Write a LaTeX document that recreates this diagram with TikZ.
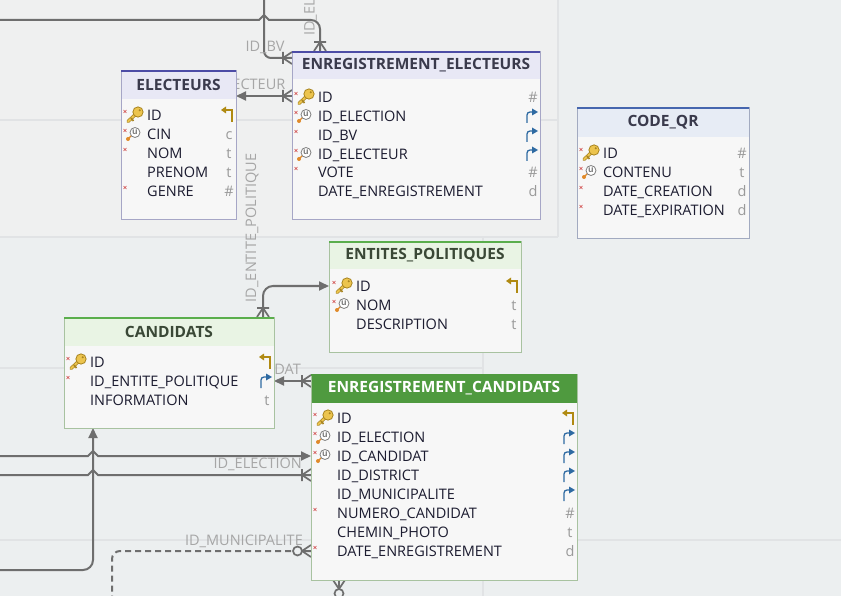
\documentclass[tikz,border=0pt]{standalone}
\usepackage{fontspec}
\setmainfont{Open Sans}
\usetikzlibrary{arrows.meta,fit}
\definecolor{bgcol}{HTML}{ECEFF0}
\definecolor{bgtl}{HTML}{EFF0F0}
\definecolor{gridcol}{HTML}{E1E3E5}
\definecolor{bodyfill}{HTML}{F7F7F7}
\definecolor{hfblue}{HTML}{E8E8F5}
\definecolor{bdblue}{HTML}{A6A6C6}
\definecolor{tcblue}{HTML}{4C4CA6}
\definecolor{hfqr}{HTML}{E7ECF5}
\definecolor{bdqr}{HTML}{A2AAC0}
\definecolor{tcqr}{HTML}{4666AE}
\definecolor{hfgreen}{HTML}{E9F4E4}
\definecolor{bdgreen}{HTML}{A8C2A0}
\definecolor{tcgreen}{HTML}{5AAE4C}
\definecolor{hfdark}{HTML}{4F9A3F}
\definecolor{bddark}{HTML}{A8C2A0}
\definecolor{tcdark}{HTML}{4F9A3F}
\definecolor{ttlblue}{HTML}{3A3A4C}
\definecolor{ttlgreen}{HTML}{3A4836}
\definecolor{rowcol}{HTML}{1C1C30}
\definecolor{typcol}{HTML}{9A9A9A}
\definecolor{lblcol}{HTML}{A6A6A6}
\definecolor{conncol}{HTML}{6E6E6E}
\definecolor{redx}{HTML}{D04848}
\definecolor{keygold}{HTML}{ECC44E}
\definecolor{keydark}{HTML}{A88420}
\definecolor{goldc}{HTML}{B08A12}
\definecolor{bluec}{HTML}{2E6AA2}
\definecolor{ugrey}{HTML}{7E7E7E}
\definecolor{okey}{HTML}{E08A2A}
\pgfdeclarelayer{bglayer}
\pgfdeclarelayer{connlayer}
\pgfsetlayers{bglayer,connlayer,main}
\tikzset{
  conn/.style={draw=conncol, line width=2pt},
  tip/.style={-{Triangle[length=10pt,width=9pt]}},
  ttl/.style={font=\bfseries\fontsize{15.5}{17}\selectfont, inner sep=0pt},
  rowt/.style={font=\fontsize{14.5}{16}\selectfont, text=rowcol, anchor=base west, inner sep=0pt},
  typt/.style={font=\fontsize{14.5}{16}\selectfont, text=typcol, anchor=base, inner sep=0pt},
  lbl/.style={font=\fontsize{14.5}{16}\selectfont, text=lblcol, inner sep=0pt},
  pics/crowbar/.style={code={\draw[conn, line width=1.7pt] (0,-6) -- (9,0) -- (0,6) (0,0) -- (9,0) (9,-6) -- (9,6);}},
  pics/crowcirc/.style={code={\draw[conn, line width=1.7pt] (0,-6) -- (9,0) -- (0,6) (0,0) -- (9,0);
     \draw[conn, line width=1.7pt, fill=bgcol] (13.5,0) circle (4.5);}},
}
% table frame: name, x1, y1, x2, y2, header bottom, palette, title, title colour
\newcommand\mytable[9]{%
  \node[fit={(#2,#3) (#4,#5)}, inner sep=0pt, outer sep=0pt, fill=bodyfill] (#1) {};
  \fill[hf#7] (#2,#3) rectangle (#4,#6);
  \draw[bd#7, line width=0.8pt] (#2,#3) rectangle (#4,#5);
  \draw[tc#7, line width=2.5pt] (#2,#3+1) -- (#4,#3+1);
  \node[ttl, text=#9] (#1-t) at ({(#2+#4)/2},{(#3+#6)/2}) {#8};
}
\newcommand\dbrow[4]{\node[rowt] (#1) at (#2,#3+5.5) {#4};}
\newcommand\nnx[2]{\draw[redx, line width=0.6pt] (#1-23.5,#2-5) -- (#1-20.5,#2-2) (#1-23.5,#2-2) -- (#1-20.5,#2-5);}
\newcommand\pkkey[2]{%
  \draw[keydark, line width=3.4pt, line cap=round] (#1-10,#2-2) -- (#1-19,#2+6.5);
  \draw[keygold, line width=2pt, line cap=round] (#1-10,#2-2) -- (#1-19,#2+6.5);
  \draw[keydark, line width=1.6pt] (#1-16,#2+3) -- (#1-13.5,#2+6);
  \fill[keydark] (#1-9,#2-3) circle (5.6);
  \fill[keygold] (#1-9,#2-3) circle (4.6);
  \fill[keydark] (#1-7.3,#2-4.7) circle (1.1);}
\newcommand\ukey[2]{%
  \draw[okey, line width=1.3pt] (#1-19,#2+5) -- (#1-15,#2+1);
  \fill[okey] (#1-19,#2+5) circle (2);
  \draw[ugrey, fill=white, line width=0.8pt] (#1-12,#2-1.5) circle (5);
  \node[font=\bfseries\fontsize{8.5}{9}\selectfont, text=ugrey, inner sep=0pt] at (#1-12,#2-2.2) {u};}
\newcommand\pkref[2]{%
  \draw[goldc, line width=1.3pt] (#1-11,#2-5) -- (#1-4,#2-5) -- (#1-4,#2+7);
  \fill[goldc] (#1-15,#2-5) -- (#1-10,#2-8.5) -- (#1-10,#2-1.5) -- cycle;}
\newcommand\fkref[2]{%
  \draw[bluec, line width=1.3pt, rounded corners=3pt] (#1-13,#2+7) -- (#1-13,#2-4) -- (#1-7,#2-4);
  \fill[bluec] (#1-2,#2-4) -- (#1-8,#2-7.5) -- (#1-8,#2-0.5) -- cycle;}
\newcommand\typg[3]{\node[typt] at (#1-7,#2+5.5) {#3};}
\begin{document}
\begin{tikzpicture}[x=1pt,y=-1pt]
\useasboundingbox (0,0) rectangle (841,596);
\begin{pgfonlayer}{bglayer}
  \fill[bgcol] (0,0) rectangle (841,596);
  \fill[bgtl] (0,0) rectangle (558,237);
  \draw[gridcol, line width=2.5pt] (0,120) -- (558,120) (0,237) -- (558,237) (558,0) -- (558,237)
     (483,237) -- (483,596) (0,368) -- (483,368) (0,540) -- (841,540);
\end{pgfonlayer}

% ---------- tables ----------
\mytable{el}{121}{70}{236}{219}{99}{blue}{ELECTEURS}{ttlblue}
\dbrow{el1}{147}{115}{ID}\nnx{147}{115}\pkkey{147}{115}\pkref{236}{115}
\dbrow{el2}{147}{134}{CIN}\nnx{147}{134}\ukey{147}{134}\typg{236}{134}{c}
\dbrow{el3}{147}{153}{NOM}\nnx{147}{153}\typg{236}{153}{t}
\dbrow{el4}{147}{172}{PRENOM}\typg{236}{172}{t}
\dbrow{el5}{147}{191}{GENRE}\nnx{147}{191}\typg{236}{191}{\#}

\mytable{ee}{292}{51}{540}{219}{79}{blue}{ENREGISTREMENT\_ELECTEURS}{ttlblue}
\dbrow{ee1}{318}{97}{ID}\nnx{318}{97}\pkkey{318}{97}\typg{540}{97}{\#}
\dbrow{ee2}{318}{116}{ID\_ELECTION}\nnx{318}{116}\ukey{318}{116}\fkref{540}{116}
\dbrow{ee3}{318}{135}{ID\_BV}\nnx{318}{135}\fkref{540}{135}
\dbrow{ee4}{318}{154}{ID\_ELECTEUR}\nnx{318}{154}\ukey{318}{154}\fkref{540}{154}
\dbrow{ee5}{318}{172}{VOTE}\nnx{318}{172}\typg{540}{172}{\#}
\dbrow{ee6}{318}{191}{DATE\_ENREGISTREMENT}\typg{540}{191}{d}

\mytable{qr}{577}{107}{749}{238}{137}{qr}{CODE\_QR}{ttlblue}
\dbrow{qr1}{603}{153}{ID}\nnx{603}{153}\pkkey{603}{153}\typg{749}{153}{\#}
\dbrow{qr2}{603}{172}{CONTENU}\nnx{603}{172}\ukey{603}{172}\typg{749}{172}{t}
\dbrow{qr3}{603}{191}{DATE\_CREATION}\nnx{603}{191}\typg{749}{191}{d}
\dbrow{qr4}{603}{210}{DATE\_EXPIRATION}\nnx{603}{210}\typg{749}{210}{d}

\mytable{ep}{329}{241}{521}{352}{269}{green}{ENTITES\_POLITIQUES}{ttlgreen}
\dbrow{ep1}{356}{286}{ID}\nnx{356}{286}\pkkey{356}{286}\pkref{521}{286}
\dbrow{ep2}{356}{305}{NOM}\nnx{356}{305}\ukey{356}{305}\typg{521}{305}{t}
\dbrow{ep3}{356}{324}{DESCRIPTION}\typg{521}{324}{t}

\mytable{ca}{64}{317}{274}{428}{346}{green}{CANDIDATS}{ttlgreen}
\dbrow{ca1}{90}{362}{ID}\nnx{90}{362}\pkkey{90}{362}\pkref{274}{362}
\dbrow{ca2}{90}{381}{ID\_ENTITE\_POLITIQUE}\nnx{90}{381}\fkref{274}{381}
\dbrow{ca3}{90}{400}{INFORMATION}\typg{274}{400}{t}

\mytable{ec}{311}{374}{577}{580}{403}{dark}{ENREGISTREMENT\_CANDIDATS}{white}
\dbrow{ec1}{337}{418}{ID}\nnx{337}{418}\pkkey{337}{418}\pkref{577}{418}
\dbrow{ec2}{337}{437}{ID\_ELECTION}\nnx{337}{437}\ukey{337}{437}\fkref{577}{437}
\dbrow{ec3}{337}{456}{ID\_CANDIDAT}\nnx{337}{456}\ukey{337}{456}\fkref{577}{456}
\dbrow{ec4}{337}{475}{ID\_DISTRICT}\fkref{577}{475}
\dbrow{ec5}{337}{494}{ID\_MUNICIPALITE}\fkref{577}{494}
\dbrow{ec6}{337}{513}{NUMERO\_CANDIDAT}\nnx{337}{513}\typg{577}{513}{\#}
\dbrow{ec7}{337}{532}{CHEMIN\_PHOTO}\typg{577}{532}{t}
\dbrow{ec8}{337}{551}{DATE\_ENREGISTREMENT}\nnx{337}{551}\typg{577}{551}{d}

% ---------- connectors ----------
\begin{pgfonlayer}{connlayer}
  % ID_ELECTION (top)
  \draw[conn] (0,20) -- (259,20) -- (264,15) -- (269,20) [rounded corners=9pt] -- (320,20) -- (ee.north -| 320,0);
  \pic[rotate=90] at (ee.north -| 320,0) {crowbar};
  \node[lbl, rotate=90, anchor=south west] (lb1) at (317,36) {ID\_ELECTION};
  % ID_BV
  \draw[conn, rounded corners=7pt] (264,0) -- (264,58) -- (ee.west |- 0,58);
  \pic[rotate=180] at (ee.west |- 0,58) {crowbar};
  \node[lbl] (lb2) at (265,47) {ID\_BV};
  % ID_ELECTEUR
  \draw[conn, tip] (ee.west |- 0,96) -- (el.east |- 0,96);
  \pic[rotate=180] at (ee.west |- 0,96) {crowbar};
  \node[lbl, anchor=east] (lb3) at (285.5,85) {ID\_ELECTEUR};
  % ID_ENTITE_POLITIQUE
  \draw[conn, rounded corners=10pt, tip] (ca.north -| 263,0) -- (263,286) -- (ep.west |- 0,286);
  \pic[rotate=90] at (ca.north -| 263,0) {crowbar};
  \node[lbl, rotate=90] (lb4) at (252,228) {ID\_ENTITE\_POLITIQUE};
  % ID_CANDIDAT
  \draw[conn, tip] (ec.west |- 0,381) -- (ca.east |- 0,381);
  \pic[rotate=180] at (ec.west |- 0,381) {crowbar};
  \node[lbl, anchor=east] (lb5) at (301,370) {ID\_CANDIDAT};
  % left lines
  \draw[conn, tip] (0,456) -- (88,456) -- (93,451) -- (98,456) -- (ec.west |- 0,456);
  \draw[conn] (0,475) -- (88,475) -- (93,470) -- (98,475) -- (ec.west |- 0,475);
  \pic[rotate=180] at (ec.west |- 0,475) {crowbar};
  \node[lbl, anchor=east] (lb6) at (302,464) {ID\_ELECTION};
  \draw[conn, rounded corners=10pt, tip] (0,570) -- (93,570) -- (ca.south -| 93,0);
  % ID_MUNICIPALITE (dashed)
  \draw[conn, dash pattern=on 6pt off 4pt, rounded corners=8pt] (ec.west |- 0,551) -- (112,551) -- (112,600);
  \pic[rotate=180] at (ec.west |- 0,551) {crowcirc};
  \node[lbl, anchor=east] (lb7) at (303,541) {ID\_MUNICIPALITE};
  % bottom
  \draw[conn] (ec.south -| 339,0) -- (339,600);
  \pic[rotate=-90] at (ec.south -| 339,0) {crowcirc};
\end{pgfonlayer}
\end{tikzpicture}
\end{document}
